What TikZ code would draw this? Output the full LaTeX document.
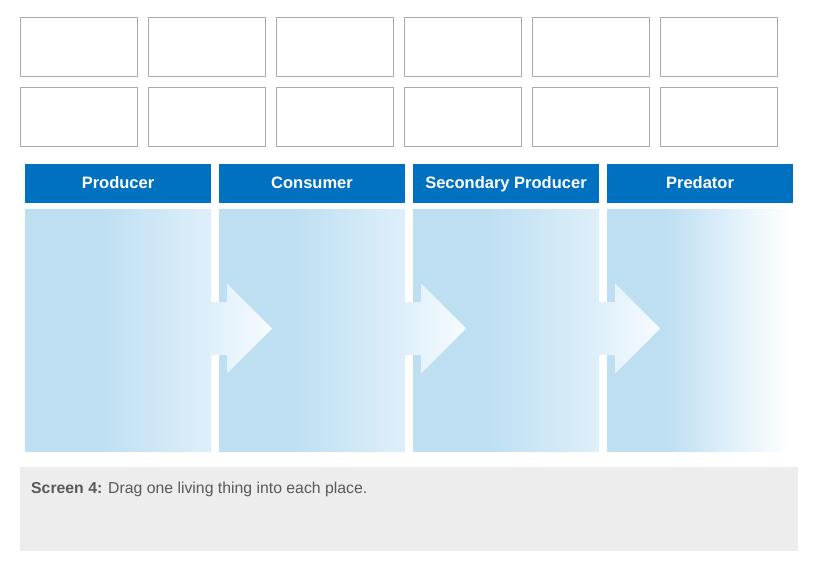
\documentclass[tikz,border=0pt]{standalone}
\usepackage{fontspec}
\setmainfont{Liberation Sans}
\definecolor{hdrblue}{RGB}{0,112,192}
\definecolor{colblue}{RGB}{190,223,242}
\definecolor{colend}{RGB}{222,239,250}
\definecolor{arrowa}{RGB}{222,239,250}
\definecolor{arrowb}{RGB}{246,251,254}
\definecolor{boxline}{RGB}{170,170,170}
\definecolor{panelgrey}{RGB}{237,237,237}
\definecolor{txtgrey}{RGB}{89,89,89}
\pgfdeclarehorizontalshading{colshade}{100bp}{color(0bp)=(colblue); color(45bp)=(colblue); color(75bp)=(colend); color(100bp)=(colend)}
\pgfdeclarehorizontalshading{lastshade}{100bp}{color(0bp)=(colblue); color(41bp)=(colblue); color(74bp)=(white); color(100bp)=(white)}
\tikzset{
  slotbox/.style={draw=boxline, line width=1pt, fill=white},
  hdrbar/.style={fill=hdrblue},
  hdrtext/.style={text=white, font=\fontsize{16.5}{18}\selectfont\bfseries, anchor=base, inner sep=0pt},
}
\begin{document}
\begin{tikzpicture}[x=1pt,y=-1pt]
\useasboundingbox (0,0) rectangle (817,570);
\fill[white] (0,0) rectangle (817,570);
% slot boxes
\foreach \i in {0,...,5}{
  \pgfmathsetmacro{\xa}{20+128*\i}
  \draw[slotbox] (\xa,17.5) rectangle ++(117,59);
  \draw[slotbox] (\xa,87.5) rectangle ++(117,59);
}
% columns
\foreach \i in {0,1,2}{
  \pgfmathsetmacro{\xa}{25+194*\i}
  \shade[shading=colshade, shading angle=0] (\xa,209) rectangle ++(186,242);
}
\shade[shading=lastshade, shading angle=0] (607,209) rectangle (793,451);
% arrows
\foreach \i in {0,1,2}{
  \pgfmathsetmacro{\xs}{207+194*\i}
  \pgfmathsetmacro{\xh}{227+194*\i}
  \pgfmathsetmacro{\xt}{272+194*\i}
  \shade[left color=arrowa, right color=arrowb]
    (\xs,302) -- (\xh,302) -- (\xh,283.5) -- (\xt,328.5) -- (\xh,373.5) -- (\xh,355) -- (\xs,355) -- cycle;
}
% headers
\foreach \i/\t in {0/Producer,1/Consumer,2/Secondary Producer,3/Predator}{
  \pgfmathsetmacro{\xa}{25+194*\i}
  \fill[hdrbar] (\xa,163.5) rectangle ++(186,39);
  \node[hdrtext] (h\i) at (\xa+93,188.5) {\t};
}
% bottom panel
\fill[panelgrey] (20,467) rectangle (798,551);
\node[anchor=base west, inner sep=0pt, text=txtgrey, font=\fontsize{15.8}{19}\selectfont] (note) at (31,493.5) {\textbf{Screen 4:} Drag one living thing into each place.};
\end{tikzpicture}
\end{document}
